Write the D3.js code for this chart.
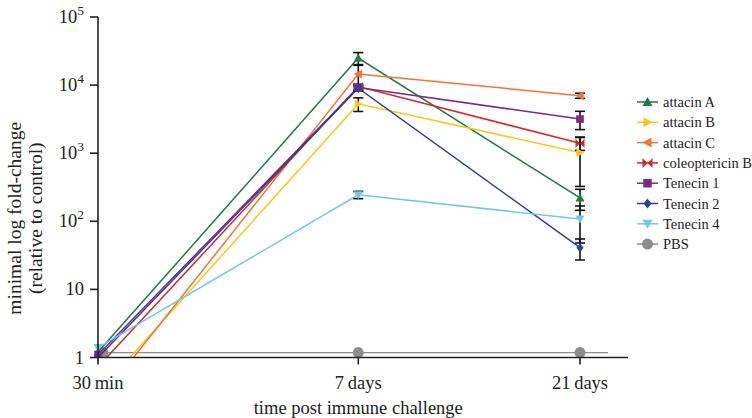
<!DOCTYPE html>
<html>
<head>
<meta charset="utf-8">
<script src="https://cdn.jsdelivr.net/npm/d3@7"></script>
<style>
  body { margin: 0; background: #fff; }
  svg { font-family: "Liberation Serif", "DejaVu Serif", serif; }
</style>
</head>
<body>
<svg id="chart" width="752" height="418"></svg>
<script>
// time points and their relative positions along the x axis
const times = ['30 min', '7 days', '21 days'];
const timePos = [0, 0.54, 1];

const series = ['attacin A', 'attacin B', 'attacin C', 'coleoptericin B', 'Tenecin 1', 'Tenecin 2', 'Tenecin 4'];
const colours = ['#1f7a45', '#f6c81e', '#f07436', '#d3272d', '#7a2a7f', '#2f3f9b', '#72c9dc'];
const symbols = ['triUp', 'triRight', 'triLeft', 'bowtie', 'square', 'diamond', 'triDown'];

// fold-change values per series at 30 min, 7 days, 21 days
const attacinA = [1.2, 25000, 220];
const attacinB = [0.3, 5300, 1025];
const attacinC = [0.22, 14500, 7000];
const coleoptericinB = [0.73, 9500, 1400];
const tenecin1 = [1.1, 9200, 3170];
const tenecin2 = [1.0, 9000, 41];
const tenecin4 = [1.4, 245, 108];
const pbs = [1.18, 1.18, 1.18];

// error (+/-) per series
const errA = [0, 5000, 75];
const errB = [0, 1200, 700];
const errC = [0, 5000, 600];
const errCol = [0, 800, 300];
const errT1 = [0, 900, 950];
const errT2 = [0, 700, 14];
const errT4 = [0, 30, 60];

const values = [attacinA, attacinB, attacinC, coleoptericinB, tenecin1, tenecin2, tenecin4];
const errors = [errA, errB, errC, errCol, errT1, errT2, errT4];

const yTicks = [1, 10, 100, 1000, 10000, 100000];

const margin = { top: 17, left: 98, right: 172, bottom: 60 };
const width = 752, height = 418;
const plotW = width - margin.left - margin.right;
const yBottom = 357.5;

const svg = d3.select('#chart');

const x = d3.scaleOrdinal()
    .domain(times)
    .range(timePos.map(f => margin.left + f * plotW));

const y = d3.scaleLog()
    .domain([1, 100000])
    .range([yBottom, margin.top]);

// clip everything below the x axis
svg.append('defs').append('clipPath').attr('id', 'plotClip')
   .append('rect')
   .attr('x', margin.left - 10).attr('y', 0)
   .attr('width', plotW + 40).attr('height', yBottom);

// marker paths, centred on 0,0
function markerPath(type, s) {
    const h = s / 2;
    switch (type) {
        case 'triUp': return `M0,${-h}L${h},${h * 0.8}L${-h},${h * 0.8}Z`;
        case 'triDown': return `M0,${h}L${h},${-h * 0.8}L${-h},${-h * 0.8}Z`;
        case 'triRight': return `M${h},0L${-h * 0.8},${h}L${-h * 0.8},${-h}Z`;
        case 'triLeft': return `M${-h},0L${h * 0.8},${h}L${h * 0.8},${-h}Z`;
        case 'bowtie': return `M${-h},${-h}L0,0L${-h},${h}ZM${h},${-h}L0,0L${h},${h}Z`;
        case 'square': return `M${-h * 0.85},${-h * 0.85}h${h * 1.7}v${h * 1.7}h${-h * 1.7}Z`;
        case 'diamond': return `M0,${-h}L${h * 0.8},0L0,${h}L${-h * 0.8},0Z`;
    }
}

// PBS control line (drawn first, sits behind)
const pbsG = svg.append('g');
pbsG.append('line')
    .attr('x1', x(times[0])).attr('x2', x(times[2]) + 28)
    .attr('y1', y(pbs[0])).attr('y2', y(pbs[2]))
    .attr('stroke', '#8c8c8c').attr('stroke-width', 1.3);
pbsG.selectAll('circle').data(pbs).enter().append('circle')
    .attr('cx', (d, i) => x(times[i]) + (i === 0 ? 5 : 0))
    .attr('cy', d => y(d))
    .attr('r', 5.5)
    .attr('fill', '#8c8c8c');

const plot = svg.append('g').attr('clip-path', 'url(#plotClip)');

const line = d3.line()
    .x((d, i) => x(times[i]))
    .y(d => y(d));

series.forEach((name, s) => {
    plot.append('path')
        .datum(values[s])
        .attr('d', line)
        .attr('fill', 'none')
        .attr('stroke', colours[s])
        .attr('stroke-width', 1.5);
});

// error bars
const errG = plot.append('g').attr('stroke', '#111').attr('stroke-width', 1.6);
series.forEach((name, s) => {
    values[s].forEach((v, i) => {
        const e = errors[s][i];
        if (!e) return;
        const cx = x(times[i]);
        const hi = y(v + e), lo = y(Math.max(v - e, 1));
        errG.append('line').attr('x1', cx).attr('x2', cx).attr('y1', hi).attr('y2', lo);
        errG.append('line').attr('x1', cx - 5).attr('x2', cx + 5).attr('y1', hi).attr('y2', hi);
        errG.append('line').attr('x1', cx - 5).attr('x2', cx + 5).attr('y1', lo).attr('y2', lo);
    });
});

// markers
series.forEach((name, s) => {
    plot.selectAll(null).data(values[s]).enter().append('path')
        .attr('transform', (d, i) => `translate(${x(times[i])},${y(d)})`)
        .attr('d', markerPath(symbols[s], 9))
        .attr('fill', colours[s]);
});

// axes
const axisG = svg.append('g').attr('stroke', '#222').attr('stroke-width', 1.6);
axisG.append('line')
    .attr('x1', x(times[0])).attr('x2', x(times[2]) + 48)
    .attr('y1', yBottom).attr('y2', yBottom);
axisG.append('line')
    .attr('x1', margin.left).attr('x2', margin.left)
    .attr('y1', y(100000)).attr('y2', yBottom);
axisG.selectAll('.yt').data(yTicks).enter().append('line')
    .attr('x1', margin.left - 8).attr('x2', margin.left)
    .attr('y1', d => y(d)).attr('y2', d => y(d));
axisG.selectAll('.xt').data(times).enter().append('line')
    .attr('x1', d => x(d)).attr('x2', d => x(d))
    .attr('y1', yBottom).attr('y2', yBottom + 7);

const yLab = svg.append('g').attr('font-size', 18.5).attr('fill', '#222');
yTicks.forEach(t => {
    const txt = yLab.append('text')
        .attr('x', margin.left - 14)
        .attr('y', y(t) + 6)
        .attr('text-anchor', 'end');
    const p = Math.round(Math.log10(t));
    if (p <= 1) {
        txt.text(String(t));
    } else {
        txt.append('tspan').text('10');
        txt.append('tspan').attr('dy', -8).attr('font-size', 13.5).text(String(p));
    }
});

svg.append('g').attr('font-size', 18.5).attr('fill', '#222')
   .selectAll('text').data(times).enter().append('text')
   .attr('x', d => x(d)).attr('y', yBottom + 31)
   .attr('text-anchor', 'middle')
   .text(d => d.replace(' ', '\u2009'));

svg.append('text')
   .attr('x', x(times[1])).attr('y', yBottom + 56)
   .attr('text-anchor', 'middle').attr('font-size', 18.5).attr('fill', '#222')
   .text('time post immune challenge');

const yTitle = svg.append('text')
   .attr('transform', `translate(21,${(y(100000) + yBottom) / 2 + 31}) rotate(-90)`)
   .attr('text-anchor', 'middle').attr('font-size', 19.5).attr('fill', '#222');
yTitle.append('tspan').attr('x', 0).attr('dy', 0).text('minimal log fold-change');
yTitle.append('tspan').attr('x', 0).attr('dy', 21).text('(relative to control)');

// legend
const legNames = series.concat(['PBS']);
const legColours = colours.concat(['#8c8c8c']);
const legSymbols = symbols.concat(['circle']);
const leg = svg.append('g').attr('transform', 'translate(637,102)');
legNames.forEach((name, i) => {
    const g = leg.append('g').attr('transform', `translate(0,${i * 20.3})`);
    g.append('line').attr('x1', 0).attr('x2', 21).attr('y1', 0).attr('y2', 0)
     .attr('stroke', legColours[i]).attr('stroke-width', 1.5);
    if (legSymbols[i] === 'circle') {
        g.append('circle').attr('cx', 10.5).attr('cy', 0).attr('r', 5.5).attr('fill', legColours[i]);
    } else {
        g.append('path').attr('transform', 'translate(10.5,0)')
         .attr('d', markerPath(legSymbols[i], 10)).attr('fill', legColours[i]);
    }
    g.append('text').attr('x', 26).attr('y', 5).attr('font-size', 14.5).attr('fill', '#222').text(name);
});
</script>
</body>
</html>
